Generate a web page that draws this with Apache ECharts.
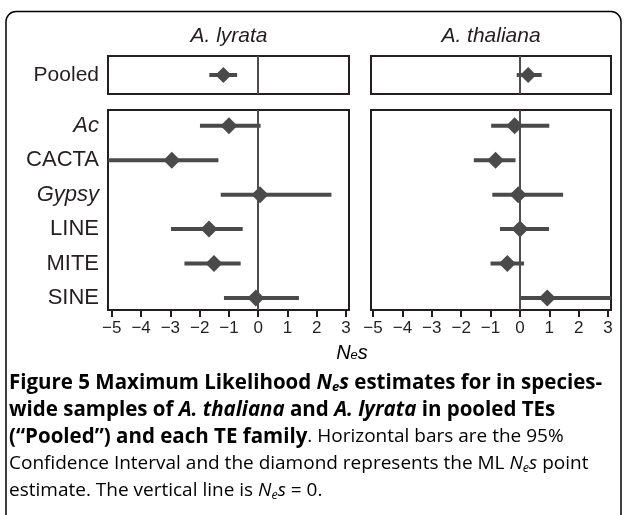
<!DOCTYPE html>
<html>
<head>
<meta charset="utf-8">
<script src="https://cdn.jsdelivr.net/npm/echarts@6/dist/echarts.min.js"></script>
<style>
html,body{margin:0;padding:0;background:#fff;}
#chart{width:624px;height:515px;}
</style>
</head>
<body>
<div id="chart"></div>
<script>
// ---- data ----
const categories = ['Ac', 'CACTA', 'Gypsy', 'LINE', 'MITE', 'SINE'];
const italicCategories = ['Ac', 'Gypsy'];
const pooledLabel = ['Pooled'];
const panelTitles = ['A. lyrata', 'A. thaliana'];
const xTicks = [-5, -4, -3, -2, -1, 0, 1, 2, 3];
const zeroLine = 0;

const lyrataEst = [-1.00, -2.95, 0.06, -1.68, -1.51, -0.08];
const lyrataLo  = [-1.99, -5.40, -1.28, -2.98, -2.52, -1.17];
const lyrataHi  = [0.08, -1.36, 2.50, -0.53, -0.60, 1.39];

const thalianaEst = [-0.18, -0.83, -0.06, 0.00, -0.43, 0.93];
const thalianaLo  = [-0.98, -1.57, -0.94, -0.68, -1.00, 0.02];
const thalianaHi  = [1.00, -0.15, 1.47, 0.99, 0.14, 3.50];

const lyrataPooled = [-1.19];
const lyrataPooledLo = [-1.67];
const lyrataPooledHi = [-0.72];
const thalianaPooled = [0.28];
const thalianaPooledLo = [-0.11];
const thalianaPooledHi = [0.74];

// ---- style ----
const ink = '#231f20';
const markColor = '#4a4a4a';
const labelFont = 'Liberation Sans';

function minus(v) { return v < 0 ? '\u2212' + Math.abs(v) : String(v); }

function renderBar(params, api) {
  const cs = params.coordSys;
  const y = api.value(2);
  const a = api.coord([api.value(0), y]);
  const b = api.coord([api.value(1), y]);
  const x1 = Math.max(a[0], cs.x);
  const x2 = Math.min(b[0], cs.x + cs.width);
  return {
    type: 'line',
    shape: { x1: x1, y1: a[1], x2: x2, y2: a[1] },
    style: { stroke: markColor, lineWidth: 4 }
  };
}

const grids = [
  { left: 108, top: 56, width: 241, height: 38 },
  { left: 371, top: 56, width: 240, height: 38 },
  { left: 108, top: 110, width: 241, height: 200 },
  { left: 371, top: 110, width: 240, height: 200 }
].map(g => Object.assign({ show: true, borderColor: ink, borderWidth: 2, backgroundColor: 'transparent', containLabel: false }, g));

const xRanges = [[-5.13, 3.10], [-5.07, 3.10]];

const xAxes = [0, 1, 2, 3].map(i => {
  const r = xRanges[i % 2];
  const main = i >= 2;
  return {
    gridIndex: i, type: 'value', min: r[0], max: r[1], position: 'bottom',
    show: main,
    axisLine: { show: main, onZero: false, lineStyle: { color: ink, width: 2 } },
    axisTick: { show: main, customValues: xTicks, length: 7, lineStyle: { color: ink, width: 2 } },
    axisLabel: { show: main, customValues: xTicks, formatter: minus, color: ink, fontSize: 17, fontFamily: labelFont, margin: 10 },
    splitLine: { show: false }
  };
});

const yAxes = [0, 1, 2, 3].map(i => {
  const main = i >= 2;
  const showLabel = (i % 2 === 0);
  if (!main) {
    return {
      gridIndex: i, type: 'category', data: pooledLabel,
      axisLine: { show: false, onZero: false }, axisTick: { show: false }, splitLine: { show: false },
      axisLabel: { show: showLabel, color: ink, fontSize: 21, fontFamily: labelFont, margin: 9 }
    };
  }
  return {
    gridIndex: i, type: 'value', inverse: true, min: -0.46, max: 5.35,
    axisLine: { show: false, onZero: false }, axisTick: { show: false }, splitLine: { show: false },
    axisLabel: {
      show: showLabel, customValues: categories.map((c, k) => k),
      formatter: v => {
        const c = categories[v];
        return italicCategories.indexOf(c) >= 0 ? '{it|' + c + '}' : c;
      },
      color: ink, fontSize: 22, fontFamily: labelFont, margin: 9,
      rich: { it: { fontStyle: 'italic', fontSize: 22, fontFamily: labelFont, color: ink } }
    }
  };
});

const zeroMark = {
  silent: true, symbol: ['none', 'none'], animation: false,
  label: { show: false },
  lineStyle: { color: '#4d4d4d', width: 2, type: 'solid' },
  emphasis: { disabled: true },
  data: [{ xAxis: zeroLine }]
};

function barSeries(idx, lo, hi) {
  return {
    type: 'custom', xAxisIndex: idx, yAxisIndex: idx, renderItem: renderBar,
    encode: { x: [0, 1], y: 2 },
    data: lo.map((v, k) => [v, hi[k], k]), z: 3, silent: true
  };
}
function pointSeries(idx, est, size) {
  return {
    type: 'scatter', xAxisIndex: idx, yAxisIndex: idx, symbol: 'diamond', symbolSize: size,
    itemStyle: { color: markColor, opacity: 1 },
    data: est.map((v, k) => [v, k]), z: 4, silent: true,
    markLine: zeroMark
  };
}

const series = [
  barSeries(0, lyrataPooledLo, lyrataPooledHi), pointSeries(0, lyrataPooled, [16, 16]),
  barSeries(1, thalianaPooledLo, thalianaPooledHi), pointSeries(1, thalianaPooled, [16, 16]),
  barSeries(2, lyrataLo, lyrataHi), pointSeries(2, lyrataEst, [17, 17]),
  barSeries(3, thalianaLo, thalianaHi), pointSeries(3, thalianaEst, [17, 17])
];

const capFont = '"Open Sans"';
const boldSize = 20.5;
const regSize = 19;
const capRich = {
  b: { fontWeight: 'bold', fontFamily: capFont, fontSize: boldSize, color: '#231f20' },
  bi: { fontWeight: 'bold', fontStyle: 'italic', fontFamily: capFont, fontSize: boldSize, color: '#231f20' },
  bsub: { fontWeight: 'bold', fontStyle: 'italic', fontFamily: capFont, fontSize: 13, color: '#231f20', padding: [9, 0, 0, 0] },
  r: { fontFamily: capFont, fontSize: regSize, color: '#231f20' },
  ri: { fontStyle: 'italic', fontFamily: capFont, fontSize: regSize, color: '#231f20' },
  rsub: { fontStyle: 'italic', fontFamily: capFont, fontSize: 12.5, color: '#231f20', padding: [9, 0, 0, 0] }
};
const captionLines = [
  '{b|Figure 5 Maximum Likelihood }{bi|N}{bsub|e}{bi|s}{b| estimates for in species-}',
  '{b|wide samples of }{bi|A. thaliana}{b| and }{bi|A. lyrata}{b| in pooled TEs}',
  '{b|(\u201cPooled\u201d) and each TE family}{r|. Horizontal bars are the 95%}',
  '{r|Confidence Interval and the diamond represents the ML }{ri|N}{rsub|e}{ri|s}{r| point}',
  '{r|estimate. The vertical line is }{ri|N}{rsub|e}{ri|s}{r| = 0.}'
];

const graphic = [
  { type: 'rect', shape: { x: 6, y: 11.5, width: 615, height: 700, r: 10 }, style: { fill: 'none', stroke: '#000', lineWidth: 1.5 }, silent: true },
  { type: 'text', x: 229, y: 36, style: { text: panelTitles[0], font: 'italic 21px "Liberation Sans"', fill: ink, textAlign: 'center', textVerticalAlign: 'middle' } },
  { type: 'text', x: 491, y: 36, style: { text: panelTitles[1], font: 'italic 21px "Liberation Sans"', fill: ink, textAlign: 'center', textVerticalAlign: 'middle' } },
  { type: 'text', x: 352, y: 353, style: {
      text: '{i|N}{s|e}{i|s}', textAlign: 'center', textVerticalAlign: 'middle',
      rich: { i: { fontStyle: 'italic', fontSize: 20, fontFamily: labelFont, color: ink },
              s: { fontStyle: 'italic', fontSize: 13, fontFamily: labelFont, color: ink, padding: [5, 0, 0, 0] } } } }
].concat(captionLines.map((t, k) => ({
  type: 'text', x: 9, y: 383 + k * 27, style: { text: t, rich: capRich, textVerticalAlign: 'middle', textAlign: 'left' }
})));

const chart = echarts.init(document.getElementById('chart'), null, { renderer: 'canvas' });
chart.setOption({
  animation: false,
  grid: grids, xAxis: xAxes, yAxis: yAxes, series: series, graphic: graphic
});
</script>
</body>
</html>
